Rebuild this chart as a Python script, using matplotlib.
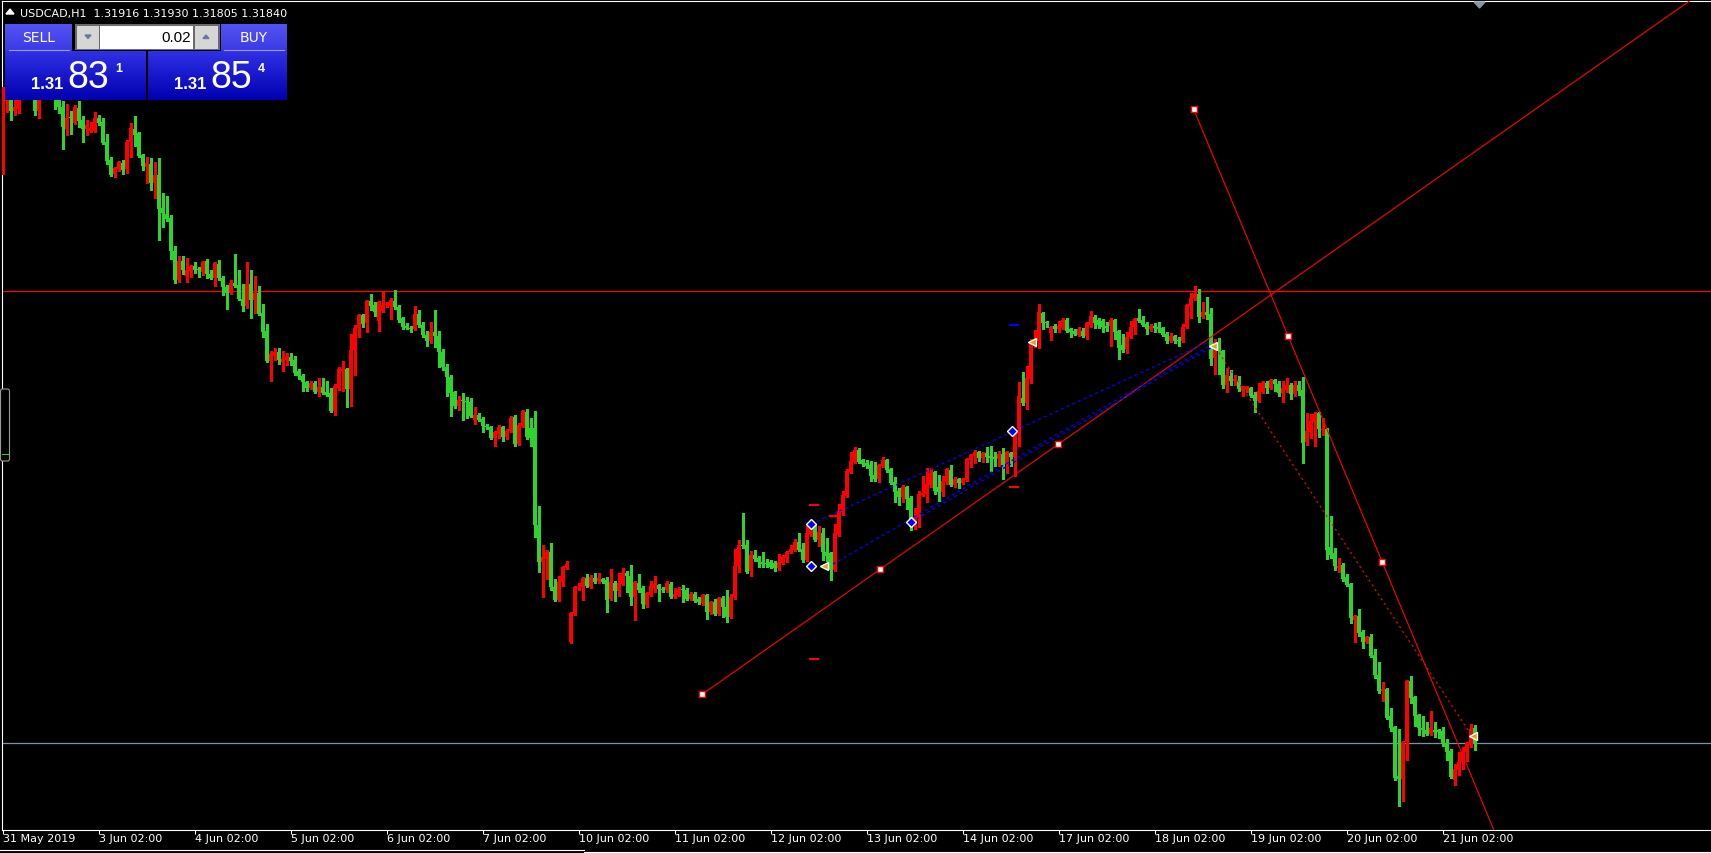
import numpy as np
import matplotlib
matplotlib.use("Agg")
import matplotlib.pyplot as plt
from matplotlib.patches import Rectangle, Polygon, FancyBboxPatch
from matplotlib.colors import LinearSegmentedColormap

plt.rcParams["font.family"] = ["DejaVu Sans"]

PIP = 0.0001
symbol = "USDCAD,H1"
bid = 1.31831
ask = 1.31854
lot = "0.02"

# H1 candles, in pips (x 0.0001)
open_pips = [
    13470, 13505, 13512, 13500, 13501, 13510, 13515, 13512, 13507, 13500,
    13511, 13516, 13513, 13509, 13507.5, 13502, 13491, 13497, 13494, 13501.5,
    13495.5, 13491, 13490, 13490, 13496.5, 13494.5, 13484.5, 13475.5, 13468.5, 13471,
    13474, 13471, 13484.5, 13491, 13489, 13478, 13472, 13473.5, 13464, 13468,
    13451.5, 13448.5, 13446.5, 13430, 13415.5, 13425, 13417.5, 13420, 13422.5, 13421,
    13419.5, 13425, 13418.5, 13416.5, 13423.5, 13416.5, 13412, 13409, 13414, 13413,
    13406, 13402.5, 13413.5, 13405.5, 13409, 13399, 13390, 13375, 13377.5, 13379.5,
    13374.5, 13375.5, 13377, 13375.5, 13370, 13367.5, 13364.5, 13361.5, 13364, 13359.5,
    13362, 13359.5, 13359, 13350, 13361.5, 13370, 13371, 13361, 13380.5, 13391.5,
    13398, 13394, 13405, 13403, 13395, 13400, 13403, 13402.5, 13405, 13402,
    13396.5, 13392.5, 13391.5, 13391, 13398.5, 13393, 13388, 13385, 13389.5, 13387.5,
    13379.5, 13372, 13367, 13359.5, 13352.5, 13355.5, 13355, 13354.5, 13345.5, 13348,
    13346, 13342.5, 13342, 13336.5, 13338.5, 13342, 13337, 13340, 13347, 13333.5,
    13342.5, 13349.5, 13341.5, 13341.5, 13293, 13274.5, 13276, 13279.5, 13262, 13255.5,
    13264.5, 13272, 13234.5, 13248.5, 13261.5, 13262, 13266.5, 13262, 13266.5, 13265,
    13266, 13265.5, 13256, 13264, 13260, 13263.5, 13269, 13267.5, 13257, 13264,
    13261.5, 13253, 13258, 13261.5, 13263, 13261, 13260.5, 13263.5, 13257, 13258,
    13261, 13260.5, 13256, 13258.5, 13256, 13254, 13258, 13249.5, 13254.5, 13248.5,
    13256.5, 13252, 13247, 13257, 13272.5, 13283, 13283, 13270, 13278, 13276.5,
    13274.5, 13274, 13274.5, 13274, 13271.5, 13274, 13276.5, 13279.5, 13280.5, 13284.5,
    13281, 13275.5, 13288.5, 13292.5, 13285.5, 13289, 13279.5, 13279, 13270.5, 13288.5,
    13299.5, 13307.5, 13319.5, 13324.5, 13330.5, 13325.5, 13324, 13323, 13318, 13316,
    13322.5, 13325.5, 13321, 13314.5, 13310, 13307, 13312, 13306.5, 13292.5, 13296.5,
    13308, 13308.5, 13313, 13319.5, 13312, 13309.5, 13314.5, 13320.5, 13313, 13316,
    13314, 13315.5, 13325.5, 13327.5, 13329.5, 13326.5, 13329, 13327.5, 13327, 13326,
    13328.5, 13323.5, 13329, 13327, 13338.5, 13356.5, 13354, 13366, 13383.5, 13385,
    13399, 13394.5, 13389, 13392.5, 13391, 13391.5, 13395.5, 13391, 13390, 13388,
    13390, 13387.5, 13393, 13397, 13395.5, 13395, 13392.5, 13392.5, 13395.5, 13390,
    13383, 13381, 13387, 13392, 13396.5, 13395.5, 13393.5, 13391, 13392.5, 13392,
    13391.5, 13388.5, 13385, 13387.5, 13385.5, 13385, 13392, 13402.5, 13406.5, 13408.5,
    13397, 13399.5, 13398.5, 13376.5, 13384.5, 13380, 13363, 13367.5, 13365, 13365,
    13360, 13361, 13361.5, 13358, 13355, 13359.5, 13364, 13361.5, 13365.5, 13363.5,
    13359, 13360.5, 13363, 13358.5, 13363, 13360.5, 13334.5, 13339.5, 13344.5, 13349,
    13340.5, 13341, 13282, 13279, 13271.5, 13273, 13267, 13263.5, 13245.5, 13247.5,
    13239.5, 13234.5, 13237, 13228, 13218, 13210, 13211, 13197.5, 13192, 13167.5,
    13166, 13184.5, 13215, 13207, 13198, 13191.5, 13190.5, 13188.5, 13190.5, 13190.5,
    13190, 13184, 13180, 13165.5, 13170.5, 13174.5, 13179.5, 13183, 13191.6,
]
high_pips = [
    13512, 13513, 13513.5, 13506, 13512.5, 13517.5, 13518.5, 13514, 13509, 13513.5,
    13518, 13519, 13515, 13511, 13509.5, 13505, 13503.5, 13500, 13503, 13505,
    13497.5, 13495.5, 13494.5, 13499.5, 13498, 13496.5, 13488.5, 13477, 13472, 13475,
    13475.5, 13485.5, 13494, 13497.5, 13489.5, 13478.5, 13477, 13476.5, 13474.5, 13476.5,
    13459, 13457.5, 13448, 13432.5, 13427.5, 13427.5, 13426.5, 13423, 13424.5, 13422,
    13425, 13426, 13420.5, 13424.5, 13425.5, 13417.5, 13413, 13415.5, 13428.5, 13420.5,
    13413.5, 13424.5, 13420.5, 13417.5, 13412.5, 13403.5, 13393.5, 13380, 13381.5, 13381.5,
    13380, 13379, 13379, 13377.5, 13371, 13368.5, 13365, 13365, 13365, 13366.5,
    13366.5, 13365, 13361.5, 13363.5, 13372, 13375, 13371.5, 13388.5, 13393, 13398.5,
    13398.5, 13405.5, 13408.5, 13404.5, 13405, 13409.5, 13404.5, 13406.5, 13410.5, 13403,
    13397, 13394, 13392.5, 13402.5, 13400.5, 13394.5, 13390, 13394.5, 13400.5, 13390,
    13381, 13373.5, 13368, 13360, 13357.5, 13359, 13357, 13356.5, 13352, 13349,
    13347, 13343.5, 13342.5, 13340, 13343, 13342.5, 13341, 13347.5, 13348, 13344,
    13350.5, 13351, 13346.5, 13350, 13302.5, 13283, 13280.5, 13284, 13266, 13267.5,
    13272.5, 13275, 13249.5, 13262.5, 13264, 13267, 13268.5, 13268, 13269, 13269,
    13266.5, 13267, 13271, 13265, 13269, 13271.5, 13270, 13273, 13265, 13268.5,
    13262.5, 13259.5, 13265, 13267.5, 13263.5, 13262, 13265, 13264.5, 13261.5, 13262,
    13263, 13261.5, 13259.5, 13259.5, 13257, 13258.5, 13258.5, 13255, 13256, 13257,
    13257.5, 13260.5, 13258.5, 13281, 13285.5, 13299, 13285.5, 13280, 13280.5, 13277.5,
    13279.5, 13276, 13275.5, 13275, 13278.5, 13278, 13280, 13283, 13286, 13289,
    13284, 13292.5, 13295, 13293.5, 13292.5, 13291.5, 13286.5, 13279.5, 13293.5, 13303.5,
    13310, 13321, 13329.5, 13332, 13331.5, 13326, 13325.5, 13325, 13324.5, 13323.5,
    13327, 13326, 13321.5, 13317, 13311.5, 13313, 13312.5, 13307.5, 13301.5, 13310,
    13317.5, 13321.5, 13321.5, 13320, 13318, 13317.5, 13321.5, 13323, 13317, 13316.5,
    13316.5, 13326.5, 13328.5, 13330.5, 13330, 13329.5, 13332, 13332.5, 13329.5, 13330,
    13331.5, 13330, 13329.5, 13340, 13364.5, 13369.5, 13372.5, 13386, 13390.5, 13403.5,
    13399.5, 13395, 13392.5, 13393.5, 13395, 13396.5, 13396.5, 13391.5, 13391, 13392,
    13391.5, 13394.5, 13400, 13398, 13396.5, 13396, 13394.5, 13396.5, 13396, 13390.5,
    13388.5, 13389.5, 13395, 13396.5, 13401, 13397.5, 13394.5, 13393.5, 13394, 13394.5,
    13392, 13389.5, 13389, 13388, 13387, 13393.5, 13403.5, 13409, 13412.5, 13411,
    13404.5, 13407, 13401.5, 13386, 13386.5, 13380.5, 13371.5, 13370.5, 13368, 13367.5,
    13362.5, 13362.5, 13362, 13359.5, 13364, 13365, 13365, 13366, 13366, 13365,
    13365, 13366.5, 13364, 13365, 13365, 13367, 13349, 13348.5, 13349.5, 13349.5,
    13346.5, 13341.5, 13297.5, 13281.5, 13276.5, 13274, 13268.5, 13264, 13248, 13251,
    13240.5, 13237.5, 13238.5, 13231, 13224.5, 13214.5, 13211.5, 13201.5, 13192.5, 13191,
    13185, 13215.5, 13217.5, 13207.5, 13198.5, 13197.5, 13194.5, 13200, 13194.5, 13191,
    13192, 13186, 13181, 13173.5, 13179.5, 13182, 13184.5, 13193.5, 13193,
]
low_pips = [
    13468.5, 13499.5, 13495.5, 13498, 13499, 13508.5, 13509.5, 13506, 13498, 13496.5,
    13509, 13510, 13507, 13501, 13499, 13481, 13488, 13488.5, 13493.5, 13492,
    13484.5, 13488, 13489.5, 13489.5, 13493, 13483.5, 13473.5, 13467.5, 13467, 13470,
    13468.5, 13469, 13477, 13482.5, 13477, 13470.5, 13464, 13460.5, 13456.5, 13435.5,
    13442, 13445, 13426, 13414, 13414.5, 13418.5, 13414.5, 13417, 13419, 13417,
    13418, 13416.5, 13416, 13412.5, 13415.5, 13408, 13401, 13408.5, 13412, 13405.5,
    13400, 13401.5, 13396.5, 13399, 13398, 13387, 13374.5, 13365, 13375.5, 13373.5,
    13370, 13373, 13373, 13368, 13366, 13360, 13360, 13361, 13359, 13357.5,
    13358.5, 13357.5, 13349.5, 13348, 13360.5, 13360, 13352, 13352.5, 13368, 13387,
    13392, 13389.5, 13400.5, 13397.5, 13390, 13399.5, 13402, 13396, 13401, 13394.5,
    13391, 13391, 13389.5, 13390.5, 13392, 13387, 13382.5, 13384, 13382, 13372,
    13370.5, 13357.5, 13347.5, 13351.5, 13350.5, 13345.5, 13346.5, 13347, 13343.5, 13345,
    13339.5, 13341, 13336, 13332.5, 13336.5, 13335, 13336, 13339.5, 13332.5, 13333,
    13342, 13336, 13332.5, 13287, 13269.5, 13257, 13266, 13260.5, 13255, 13255,
    13262.5, 13271, 13234, 13248, 13260.5, 13255.5, 13262, 13261.5, 13264, 13264,
    13264, 13249.5, 13255.5, 13255, 13257.5, 13263, 13259.5, 13253, 13245.5, 13259.5,
    13251.5, 13252, 13257.5, 13259.5, 13255, 13259.5, 13259.5, 13256.5, 13256.5, 13257.5,
    13254.5, 13255.5, 13255.5, 13254.5, 13253.5, 13253, 13246, 13248.5, 13248, 13248,
    13247, 13244.5, 13246.5, 13256, 13269.5, 13281.5, 13269, 13267.5, 13275, 13272,
    13272, 13272, 13271.5, 13270, 13270.5, 13273.5, 13274.5, 13279, 13280, 13280,
    13274.5, 13275, 13287.5, 13285, 13282.5, 13275.5, 13275, 13265.5, 13270, 13287.5,
    13298, 13307, 13319, 13324, 13324, 13322.5, 13321.5, 13315, 13315, 13314.5,
    13322, 13319.5, 13313.5, 13304.5, 13303, 13304.5, 13301, 13290.5, 13291, 13292,
    13307.5, 13304.5, 13312, 13308.5, 13305, 13307.5, 13313.5, 13312.5, 13312, 13311.5,
    13313.5, 13315, 13322, 13324, 13325, 13324.5, 13324.5, 13320, 13322.5, 13322.5,
    13316, 13319, 13322.5, 13317.5, 13332.5, 13353, 13351, 13364, 13382, 13381.5,
    13391, 13392, 13385.5, 13389.5, 13389.5, 13391, 13389.5, 13387, 13388, 13387.5,
    13387, 13386, 13392, 13391.5, 13391.5, 13389.5, 13390, 13382.5, 13386, 13376,
    13379.5, 13379, 13386.5, 13388.5, 13394.5, 13392.5, 13388.5, 13390, 13389.5, 13389.5,
    13387.5, 13384, 13384.5, 13384, 13382.5, 13384.5, 13391.5, 13396.5, 13405.5, 13394.5,
    13396.5, 13396, 13373, 13368.5, 13368.5, 13361.5, 13359.5, 13363, 13363, 13360,
    13357.5, 13359.5, 13357, 13349.5, 13354.5, 13359, 13359, 13361, 13360, 13357.5,
    13354.5, 13359.5, 13356, 13357.5, 13358, 13324, 13333, 13336.5, 13332.5, 13337,
    13338, 13276, 13276.5, 13270.5, 13269.5, 13265, 13262.5, 13244, 13234.5, 13237.5,
    13231.5, 13234, 13227, 13216.5, 13209, 13205, 13196, 13190, 13165.5, 13152.5,
    13155, 13175.5, 13204, 13192.5, 13188, 13187.5, 13188, 13188, 13187, 13186.5,
    13182.5, 13175.5, 13166.5, 13163, 13168, 13171, 13175, 13182, 13180.5,
]
close_pips = [
    13509, 13511, 13500, 13502, 13510, 13515, 13512, 13507, 13500, 13511,
    13516, 13513, 13509, 13507.5, 13502, 13492, 13496.5, 13496.5, 13502, 13495,
    13491, 13493, 13491.5, 13496.5, 13494, 13484, 13475, 13468, 13471.5, 13474.5,
    13470.5, 13484.5, 13491.5, 13488, 13477.5, 13472.5, 13474, 13464, 13468, 13451,
    13449, 13446, 13430, 13415.5, 13425, 13420.5, 13420.5, 13422.5, 13420.5, 13420.5,
    13424.5, 13418.5, 13416.5, 13424, 13416.5, 13412, 13409, 13414, 13412.5, 13406,
    13402.5, 13413.5, 13405.5, 13409, 13398.5, 13389.5, 13375, 13378.5, 13379.5, 13375.5,
    13376, 13377, 13375, 13369, 13367.5, 13364.5, 13361.5, 13364, 13359.5, 13362,
    13359, 13358, 13350, 13362.5, 13371, 13371, 13361, 13380.5, 13391.5, 13398,
    13393.5, 13405, 13402.5, 13399.5, 13404.5, 13403, 13403.5, 13405.5, 13402, 13395.5,
    13392, 13391.5, 13391, 13398.5, 13393, 13388, 13385, 13389.5, 13387.5, 13379.5,
    13372, 13367, 13359, 13352.5, 13355.5, 13355, 13354.5, 13347.5, 13348, 13345.5,
    13342.5, 13342, 13336.5, 13339.5, 13342, 13337, 13340, 13346.5, 13333.5, 13343,
    13350, 13337, 13336.5, 13293, 13274.5, 13277, 13279.5, 13262, 13255.5, 13264.5,
    13272, 13273.5, 13249, 13262, 13262, 13266.5, 13262.5, 13267, 13264.5, 13266.5,
    13264.5, 13255.5, 13264.5, 13260, 13264, 13269, 13267.5, 13257, 13264.5, 13260.5,
    13253.5, 13259, 13262.5, 13263.5, 13261, 13260.5, 13264, 13257, 13258.5, 13261,
    13260.5, 13256, 13258.5, 13255, 13254.5, 13258, 13249.5, 13254.5, 13248.5, 13256.5,
    13252, 13247, 13257, 13272.5, 13283, 13282.5, 13269.5, 13278, 13276, 13274.5,
    13273.5, 13273.5, 13272, 13271.5, 13274.5, 13277, 13279.5, 13281, 13284.5, 13280.5,
    13275.5, 13289, 13292.5, 13285.5, 13289.5, 13279.5, 13277.5, 13270.5, 13289, 13300,
    13308, 13320, 13325, 13330.5, 13324.5, 13323.5, 13322.5, 13317.5, 13316, 13323,
    13325.5, 13320.5, 13314, 13309.5, 13307, 13312, 13306, 13292, 13297, 13308.5,
    13309, 13313.5, 13319, 13310, 13309.5, 13315, 13321, 13313, 13316, 13314,
    13316, 13326, 13328, 13329.5, 13326.5, 13329, 13327, 13326.5, 13326, 13328.5,
    13323, 13329.5, 13327, 13339, 13357.5, 13354, 13366.5, 13383.5, 13385, 13399.5,
    13394, 13394, 13392, 13391, 13392.5, 13395.5, 13390, 13389.5, 13388.5, 13391,
    13387.5, 13394, 13397.5, 13394, 13393, 13392, 13391.5, 13395.5, 13389.5, 13381.5,
    13380.5, 13387, 13392, 13396, 13395, 13393, 13391, 13392.5, 13391.5, 13391,
    13388, 13385, 13387.5, 13385, 13385, 13392, 13403, 13406.5, 13408.5, 13397,
    13399.5, 13398, 13376, 13384.5, 13380, 13363, 13368, 13365, 13366, 13361,
    13362, 13362, 13357.5, 13355, 13360, 13364, 13361.5, 13365.5, 13363.5, 13359,
    13361.5, 13363, 13358.5, 13363, 13360, 13334, 13340, 13345, 13348.5, 13341,
    13341, 13280.5, 13278, 13272.5, 13272.5, 13266, 13263, 13246.5, 13247.5, 13239,
    13234.5, 13237, 13227.5, 13218, 13210, 13211, 13196.5, 13191.5, 13166.5, 13166,
    13184.5, 13215, 13206.5, 13197.5, 13191.5, 13190.5, 13188.5, 13191.5, 13189.5, 13189.5,
    13183.5, 13179.5, 13167, 13171, 13174.5, 13180, 13184, 13191, 13184,
]

tick_bars = [0, 24, 48, 72, 96, 120, 144, 168, 192, 216, 240, 264, 288, 312, 336, 360]
tick_labels = ["31 May 2019", "3 Jun 02:00", "4 Jun 02:00", "5 Jun 02:00", "6 Jun 02:00",
               "7 Jun 02:00", "10 Jun 02:00", "11 Jun 02:00", "12 Jun 02:00", "13 Jun 02:00",
               "14 Jun 02:00", "17 Jun 02:00", "18 Jun 02:00", "19 Jun 02:00", "20 Jun 02:00",
               "21 Jun 02:00"]

# chart objects: (bar index, price) anchors
level_price = 1.3410
trend_up = ([174.9, 263.9], [1.32084, 1.33334])
trend_down = ([297.75, 344.9], [1.35008, 1.32744])
sell_trade = ([303.3, 367.3], [1.33815, 1.31875])
buy_trades = [([202.1, 301.3], [1.32935, 1.33845]),
              ([207.6, 301.3], [1.32735, 1.33820]),
              ([227.1, 302.8], [1.32945, 1.33825])]
buy_arrows = ([202.1, 202.1, 227.1, 252.2], [1.32935, 1.32725, 1.32945, 1.33400])
close_arrows = ([205.4, 257.3, 302.6, 367.5], [1.32725, 1.33843, 1.33825, 1.31877])
sl_marks = ([202.9, 202.9, 207.9, 252.9], [1.33030, 1.32260, 1.32975, 1.33120])
tp_marks = ([252.9], [1.33930])

o = np.array(open_pips) * PIP
h = np.array(high_pips) * PIP
l = np.array(low_pips) * PIP
c = np.array(close_pips) * PIP
x = np.arange(len(c))

W, H = 1711, 854
fig = plt.figure(figsize=(W / 100, H / 100), dpi=100, facecolor="black")
ax = fig.add_axes([2 / W, 23 / H, 1 - 2 / W, 829 / H])
ax.set_facecolor("black")
ax.set_xlim(-0.175, 427.075)
ax.set_ylim(1.31405, 1.3555)

bull = c > o
cols = np.where(bull, "#ff0000", "#2ed42e")
ax.vlines(x, l, h, colors=cols, linewidth=0.75, antialiased=False, zorder=3)
ax.bar(x, np.maximum(np.abs(c - o), 0.00005), width=0.75, bottom=np.minimum(o, c),
       color=cols, linewidth=0, antialiased=False, zorder=3)

ax.axhline(level_price, color="#ff0000", linewidth=0.9, zorder=2)
ax.axhline(c[-1], color="#8090a0", linewidth=0.9, zorder=2)


def ray(xs, ys):
    k = (ys[1] - ys[0]) / (xs[1] - xs[0])
    ax.plot([xs[0], 460], [ys[0], ys[0] + k * (460 - xs[0])], color="#ff0000", lw=0.8, zorder=4)
    ax.plot([xs[0], (xs[0] + xs[1]) / 2, xs[1]], [ys[0], (ys[0] + ys[1]) / 2, ys[1]],
            "s", ms=4, mfc="white", mec="#ff0000", mew=1, zorder=5)


ray(*trend_up)
ray(*trend_down)

ax.plot(*sell_trade, color="#ff0000", lw=0.8, ls=(0, (2, 3)), zorder=4)
for tx, ty in buy_trades:
    ax.plot(tx, ty, color="#0000ff", lw=1.0, ls=(0, (2, 2.5)), zorder=4)
ax.plot(*buy_arrows, "D", ms=5, mfc="#0000ff", mec="white", mew=1, ls="none", zorder=6)
ax.plot(*close_arrows, "<", ms=6, mfc="#daa520", mec="white", mew=1, ls="none", zorder=6)
ax.plot(*sl_marks, "_", ms=7, mew=1.5, color="#ff0000", ls="none", zorder=6)
ax.plot(*tp_marks, "_", ms=7, mew=1.5, color="#0000ff", ls="none", zorder=6)

ax.set_yticks([])
ax.set_xticks(tick_bars)
ax.set_xticklabels(tick_labels)
for t in ax.get_xticklabels():
    t.set_horizontalalignment("left")
ax.tick_params(axis="x", colors="white", length=3, width=0.75, pad=-0.5, labelsize=8)
for side in ["top", "left", "bottom"]:
    ax.spines[side].set_color("white")
    ax.spines[side].set_linewidth(0.8)
ax.spines["right"].set_visible(False)

# overlay in pixel coordinates: trading panel and terminal furniture
ov = fig.add_axes([0, 0, 1, 1], zorder=5)
ov.axis("off")

btn = LinearSegmentedColormap.from_list("btn", ["#5454f4", "#3a3ae4"])
box = LinearSegmentedColormap.from_list("box", ["#3030e6", "#0000b0"])
grad = np.linspace(0, 1, 60).reshape(-1, 1)
for x0, x1 in [(5, 72), (221, 287)]:
    ov.imshow(grad, extent=(x0, x1, 51.5, 25), cmap=btn, aspect="auto")
for x0, x1 in [(5, 146), (148, 287)]:
    ov.imshow(grad, extent=(x0, x1, 101, 52), cmap=box, aspect="auto")
ov.plot([9, 69], [50.5, 50.5], color="#9c9cff", lw=0.8)
ov.plot([224, 284], [50.5, 50.5], color="#9c9cff", lw=0.8)

ov.add_patch(Rectangle((75, 25), 145, 26, facecolor="#6a6a6a", edgecolor="none"))
ov.add_patch(Rectangle((77, 26.5), 22, 23, facecolor="#d6d6d6", edgecolor="none"))
ov.add_patch(Rectangle((100, 26.5), 93, 23, facecolor="white", edgecolor="none"))
ov.add_patch(Rectangle((195, 26.5), 23, 23, facecolor="#d6d6d6", edgecolor="none"))
ov.add_patch(Polygon([(85, 36), (91, 36), (88, 39.5)], color="#6878a0"))
ov.add_patch(Polygon([(203, 39.5), (209, 39.5), (206, 36)], color="#6878a0"))

ov.text(38.5, 38.5, "SELL", color="white", fontsize=10, ha="center", va="center")
ov.text(254, 38.5, "BUY", color="white", fontsize=10, ha="center", va="center")
ov.text(191, 38.5, lot, color="black", fontsize=11, ha="right", va="center",
        family="Liberation Sans")

for px, price in [(5, bid), (148, ask)]:
    s = f"{price:.5f}"
    ov.text(px + 26, 89, s[:4], color="white", fontsize=12, fontweight="bold",
            ha="left", va="baseline", family="Liberation Sans")
    ov.text(px + 62, 88.5, s[4:6], color="white", fontsize=27,
            ha="left", va="baseline", family="Liberation Sans")
    ov.text(px + 110, 71.5, s[6], color="white", fontsize=9, fontweight="bold",
            ha="left", va="baseline", family="Liberation Sans")

ov.add_patch(Polygon([(6, 15), (14, 15), (10, 10)], color="white"))
ov.text(20.5, 17, f"{symbol}  {o[-1]:.5f} {h[-1]:.5f} {l[-1]:.5f} {c[-1]:.5f}",
        color="white", fontsize=8, ha="left", va="baseline")

ov.add_patch(Polygon([(1474, 3), (1485, 3), (1479.5, 9)], color="#8a96a3"))
ov.add_patch(FancyBboxPatch((0.5, 390), 9, 72, boxstyle="round,pad=0,rounding_size=2",
                            facecolor="black", edgecolor="#9a9a9a", lw=0.8))
ov.plot([2, 8], [455, 455], color="#32cd32", lw=0.8)
ov.plot([0, 584], [850.5, 850.5], color="white", lw=0.8)
ov.plot([584, 584, 1711], [854, 852.5, 852.5], color="white", lw=0.8)

ov.set_xlim(0, W)
ov.set_ylim(H, 0)

fig.savefig("out.png", dpi=100, facecolor="black")
